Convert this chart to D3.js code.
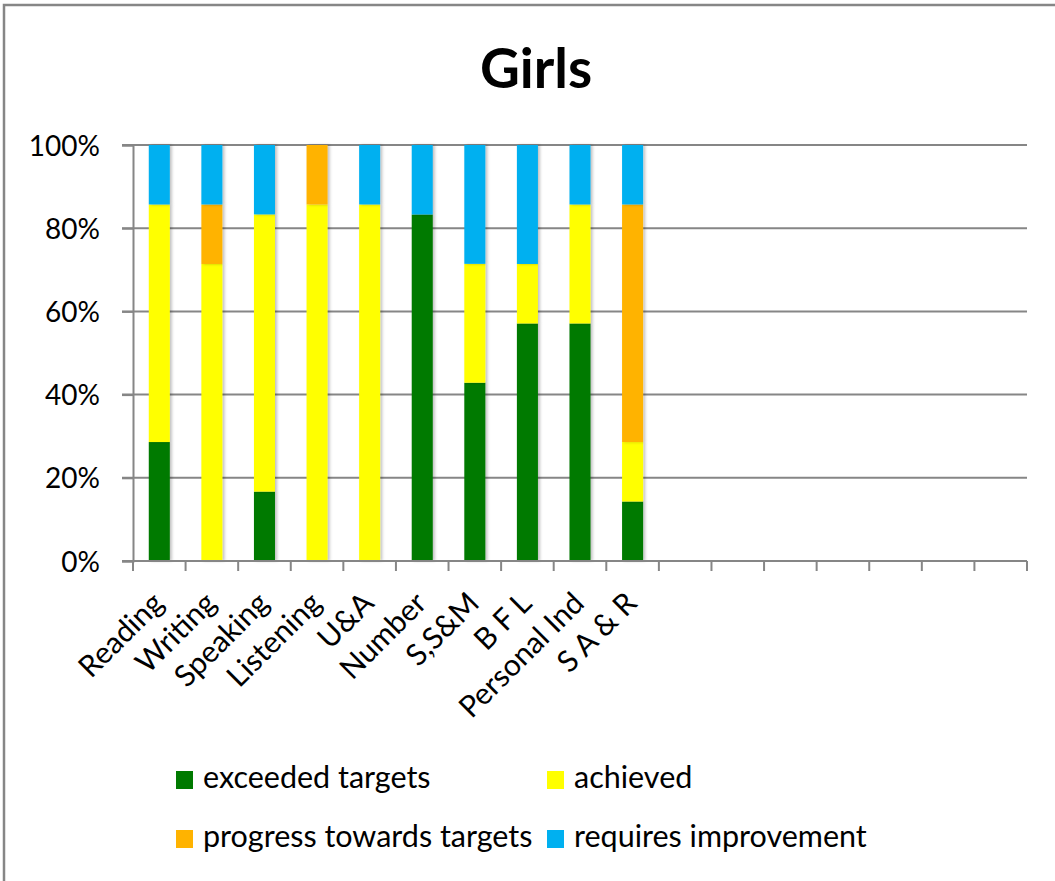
<!DOCTYPE html>
<html lang="en">
<head>
    <meta charset="UTF-8">
    <title>Girls</title>
    <style>
      body { margin: 0; background: #fff; }
      svg text { font-family: Lato, "Open Sans", sans-serif; fill: #000; }
    </style>
</head>
<body>
  <div id="graph-container"></div>
  <script src="https://d3js.org/d3.v7.min.js"></script>
  <script>
    // categories along the x axis (the chart keeps 17 slots, only 10 are filled)
    const categories = ["Reading", "Writing", "Speaking", "Listening", "U&A",
                        "Number", "S,S&M", "B F L", "Personal Ind", "S A & R"];
    const slotCount = 17;

    // series values, in percent of pupils
    const exceeded = [28.6, 0, 16.7, 0, 0, 83.3, 42.9, 57.1, 57.1, 14.3];
    const achieved = [57.1, 71.4, 66.7, 85.7, 85.7, 0, 28.6, 14.3, 28.6, 14.3];
    const progress = [0, 14.3, 0, 14.3, 0, 0, 0, 0, 0, 57.1];
    const requires = [14.3, 14.3, 16.7, 0, 14.3, 16.7, 28.6, 28.6, 14.3, 14.3];

    const seriesNames = ["exceeded targets", "achieved", "progress towards targets", "requires improvement"];
    const seriesColors = ["#007A00", "#FFFF00", "#FFB300", "#00B0F0"];
    const yTicks = [0, 0.2, 0.4, 0.6, 0.8, 1];

    var margin = {top: 145, left: 133},
      width = 894,
      height = 416;

    var svg = d3.select("#graph-container")
      .append("svg")
        .attr("width", 1055)
        .attr("height", 881);

    // outer chart frame (runs off the right and bottom of the picture)
    svg.append("rect")
      .attr("x", 4).attr("y", 5)
      .attr("width", 1200).attr("height", 1000)
      .attr("fill", "none")
      .attr("stroke", "#868686")
      .attr("stroke-width", 2.5);

    // title
    svg.append("text")
      .attr("x", 536).attr("y", 88)
      .attr("text-anchor", "middle")
      .style("font-size", "55px")
      .style("font-weight", "bold")
      .text("Girls");

    // build rows for the stack
    const rows = categories.map((c, i) => ({
      key: i,
      "exceeded targets": exceeded[i],
      "achieved": achieved[i],
      "progress towards targets": progress[i],
      "requires improvement": requires[i]
    }));

    const stacked = d3.stack()
      .keys(seriesNames)
      .offset(d3.stackOffsetExpand)(rows);

    const xScale = d3.scaleBand()
      .domain(d3.range(slotCount))
      .range([0, width])
      .paddingInner(0.6)
      .paddingOuter(0.3);

    // the ticks sit on the band edges, so keep a plain band for them
    const xEdges = d3.scaleBand()
      .domain(d3.range(slotCount))
      .range([0, width]);

    const yScale = d3.scaleLinear()
      .domain([0, 1])
      .range([height, 0]);

    const defs = svg.append("defs");
    const shadow = defs.append("filter").attr("id", "shadow")
      .attr("x", "-30%").attr("y", "-5%").attr("width", "160%").attr("height", "110%");
    shadow.append("feDropShadow")
      .attr("dx", 2).attr("dy", 0).attr("stdDeviation", 1.5)
      .attr("flood-color", "#000").attr("flood-opacity", 0.25);

    const g = svg.append("g")
      .attr("transform", `translate(${margin.left}, ${margin.top})`);

    // horizontal grid lines
    g.append("g")
      .selectAll("line")
      .data(yTicks)
      .enter()
      .append("line")
        .attr("x1", -11)
        .attr("x2", width)
        .attr("y1", d => yScale(d))
        .attr("y2", d => yScale(d))
        .attr("stroke", "#868686")
        .attr("stroke-width", 2);

    // y axis
    const yAxis = g.append("g")
      .attr("class", "y-axis")
      .call(d3.axisLeft(yScale).tickValues(yTicks).tickFormat(d3.format(".0%")).tickSize(11).tickPadding(22));
    yAxis.select(".domain").attr("stroke", "#868686").attr("stroke-width", 2);
    yAxis.selectAll(".tick line").attr("stroke", "#868686").attr("stroke-width", 2);
    yAxis.selectAll("text")
      .style("font-size", "28px")
      .style("font-family", "Lato, sans-serif")
      .attr("fill", "#000")
      .attr("dy", "0.36em");

    // bars
    g.append("g")
      .selectAll("g")
      .data(stacked)
      .enter()
      .append("g")
        .attr("fill", (d, i) => seriesColors[i])
      .selectAll("rect")
      .data(d => d)
      .enter()
      .append("rect")
        .attr("x", d => xScale(d.data.key))
        .attr("y", d => yScale(d[1]))
        .attr("height", d => yScale(d[0]) - yScale(d[1]))
        .attr("width", xScale.bandwidth())
        .attr("filter", "url(#shadow)");

    // x axis line and ticks at band edges
    const xAxis = g.append("g").attr("class", "x-axis")
      .attr("transform", `translate(0, ${height})`);
    xAxis.append("line")
      .attr("x1", 0).attr("x2", width)
      .attr("stroke", "#868686").attr("stroke-width", 2);
    xAxis.selectAll(".tick-mark")
      .data(d3.range(slotCount + 1))
      .enter()
      .append("line")
        .attr("x1", d => d * xEdges.step())
        .attr("x2", d => d * xEdges.step())
        .attr("y1", 0).attr("y2", 10)
        .attr("stroke", "#868686").attr("stroke-width", 2);

    // rotated category labels
    xAxis.selectAll(".cat-label")
      .data(categories)
      .enter()
      .append("text")
        .attr("text-anchor", "end")
        .attr("transform", (d, i) => `translate(${xEdges(i) + xEdges.bandwidth() / 2 + 6}, 44) rotate(-45)`)
        .style("font-size", "30px")
        .text(d => d);

    // legend
    const legendPos = [[176, 771], [547, 771], [176, 830], [547, 830]];
    const legend = svg.append("g").attr("class", "legend");
    seriesNames.forEach((name, i) => {
      const item = legend.append("g")
        .attr("transform", `translate(${legendPos[i][0]}, ${legendPos[i][1]})`);
      item.append("rect")
        .attr("width", 17).attr("height", 18)
        .attr("fill", seriesColors[i]);
      item.append("text")
        .attr("x", 27).attr("y", 17)
        .style("font-size", "30.5px")
        .attr("fill", "#222")
        .text(name);
    });
  </script>
</body>
</html>
